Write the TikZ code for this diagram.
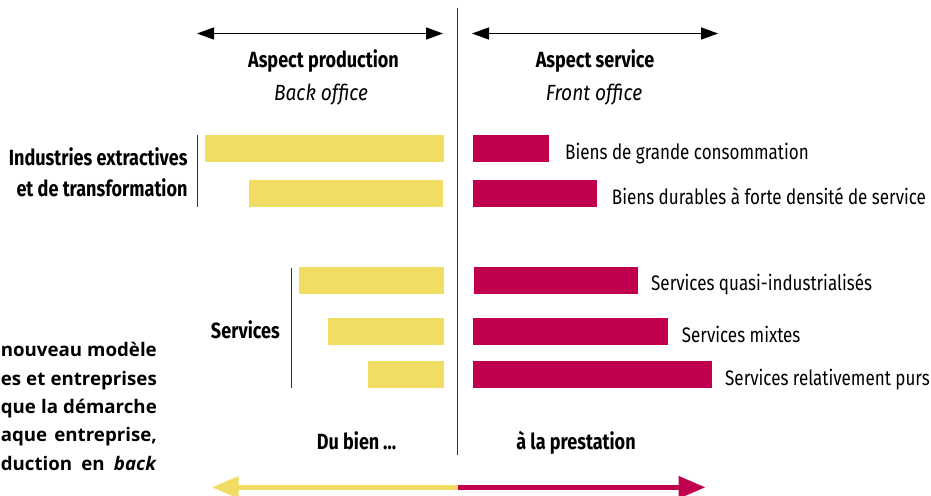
\documentclass[tikz,border=0pt]{standalone}
\usepackage{fontspec}
\setmainfont{Fira Sans}[FakeStretch=0.81]
\newfontfamily\bcond{Fira Sans}[FakeStretch=0.82]
\newfontfamily\icond{Fira Sans}[FakeStretch=0.87]
\newfontfamily\leftfont{Open Sans}
\usetikzlibrary{arrows.meta}
\definecolor{colY}{HTML}{F1DC64}
\definecolor{colM}{HTML}{C0004E}
\definecolor{colR}{HTML}{333333}
\tikzset{
  ybarbox/.style={fill=colY, draw=none, inner sep=0pt, outer sep=0pt, anchor=north west, minimum height=27pt},
  mbarbox/.style={fill=colM, draw=none, inner sep=0pt, outer sep=0pt, anchor=north west, minimum height=27pt},
  lbl/.style={anchor=base west, inner sep=0pt, font=\fontsize{21}{25}\selectfont},
  grp/.style={anchor=base east, inner sep=0pt, font=\bcond\bfseries\fontsize{22}{26}\selectfont},
  head/.style={anchor=base, inner sep=0pt, font=\bcond\bfseries\fontsize{22}{26}\selectfont},
  sub/.style={anchor=base, inner sep=0pt, font=\icond\itshape\fontsize{22}{26}\selectfont},
  cut/.style={anchor=base east, inner sep=0pt, font=\leftfont\bfseries\fontsize{18.7}{22}\selectfont},
  toparrow/.style={line width=1.5pt, black, {Triangle[length=17pt,width=12pt]}-{Triangle[length=17pt,width=12pt]}},
  vrule/.style={line width=1.3pt, colR},
  bigtip/.style={-{Triangle[length=27pt,width=21pt]}, line width=5.5pt},
}
\begin{document}
\begin{tikzpicture}[x=1pt,y=-1pt]
\useasboundingbox (0,0) rectangle (931,495);

% top arrows
\coordinate (tla) at (197,33.5);
\coordinate (tlb) at (443,33.5);
\coordinate (tra) at (472,33.5);
\coordinate (trb) at (718,33.5);
\draw[toparrow] (tla) -- (tlb);
\draw[toparrow] (tra) -- (trb);

% centre line
\coordinate (ct) at (457.7,8);
\coordinate (cb) at (457.7,455);
\draw[vrule] (ct) -- (cb);

% headings
\node[head] (hp) at (323.5,67) {Aspect production};
\node[sub] (bo) at (321,100) {Back office};
\node[head] (hs) at (595,67) {Aspect service};
\node[sub] (fo) at (594,100) {Front office};

% yellow bars
\node[ybarbox, minimum width=239pt] (y1) at (205,135) {};
\node[ybarbox, minimum width=194pt] (y2) at (249,180) {};
\node[ybarbox, minimum width=145pt] (y3) at (299,267) {};
\node[ybarbox, minimum width=116pt] (y4) at (328,318) {};
\node[ybarbox, minimum width=76pt] (y5) at (368,361) {};

% magenta bars
\node[mbarbox, minimum width=76pt] (m1) at (473,135) {};
\node[mbarbox, minimum width=124pt] (m2) at (473,180) {};
\node[mbarbox, minimum width=164pt] (m3) at (474,267) {};
\node[mbarbox, minimum width=195pt] (m4) at (473,318) {};
\node[mbarbox, minimum width=239pt] (m5) at (473,361) {};

% labels
\node[lbl] (l1) at (565,159) {Biens de grande consommation};
\node[lbl] (l2) at (611.7,204) {Biens durables à forte densité de service};
\node[lbl] (l3) at (651,290.7) {Services quasi-industrialisés};
\node[lbl] (l4) at (681.7,342) {Services mixtes};
\node[lbl] (l5) at (725,385) {Services relativement purs};

% group labels and brackets
\node[grp] (g1) at (187.7,165.7) {Industries extractives};
\node[grp] (g2) at (187.7,196.7) {et de transformation};
\coordinate (b1t) at (197.3,135);
\coordinate (b1b) at (197.3,207);
\draw[vrule] (b1t) -- (b1b);
\node[grp] (g3) at (280,338) {Services};
\coordinate (b2t) at (291.7,267.7);
\coordinate (b2b) at (291.7,387.7);
\draw[vrule] (b2t) -- (b2b);

% bottom labels
\node[head] (db) at (356.5,449) {Du bien\,…};
\node[head] (lp) at (576,449) {à la prestation};

% bottom arrow
\coordinate (bc) at (458,487.3);
\coordinate (bl) at (211.7,487.3);
\coordinate (br) at (705.7,487.3);
\draw[bigtip, draw=colY, fill=colY] (bc) -- (bl);
\draw[bigtip, draw=colM, fill=colM] (bc) -- (br);

% cut-off text at left
\node[cut] (c1) at (157,356.7) {\makebox[156pt][s]{nouveau modèle}};
\node[cut] (c2) at (157,385) {\makebox[156pt][s]{es et entreprises}};
\node[cut] (c3) at (157,413) {\makebox[156pt][s]{que la démarche}};
\node[cut] (c4) at (157,441.7) {\makebox[156pt][s]{aque entreprise,}};
\node[cut] (c5) at (157,470) {\makebox[156pt][s]{duction en \textit{back}}};
\end{tikzpicture}
\end{document}
